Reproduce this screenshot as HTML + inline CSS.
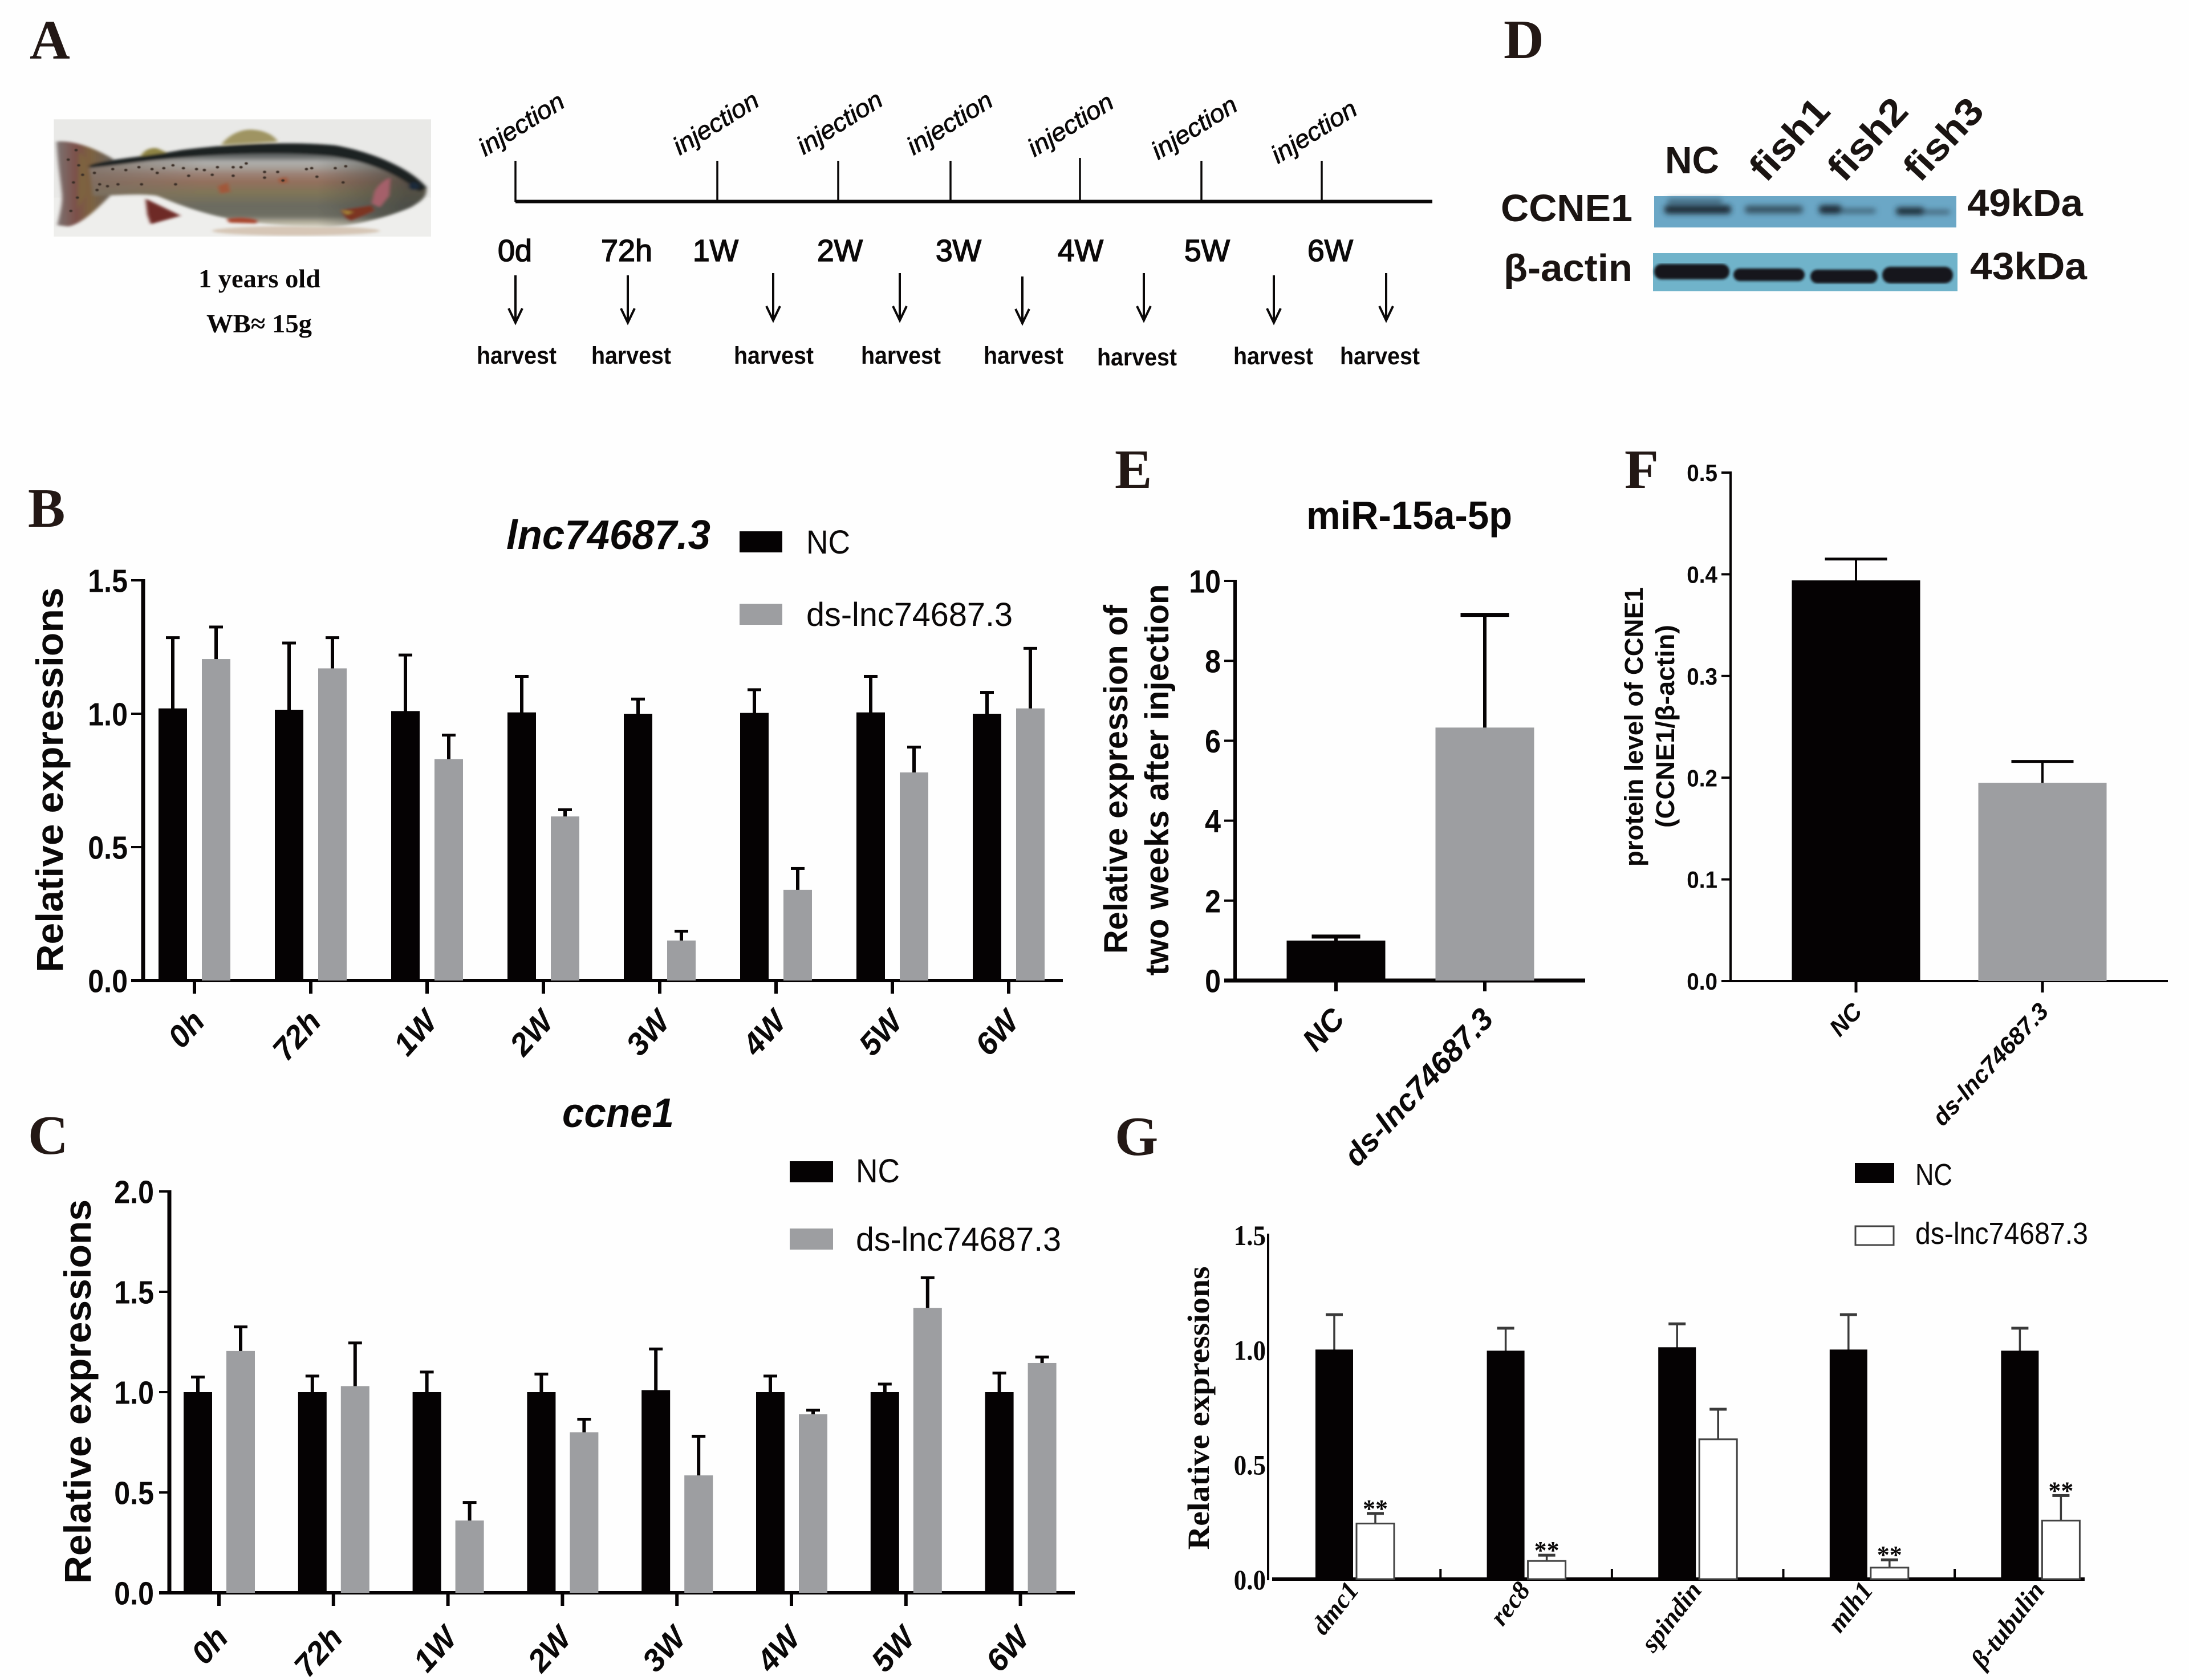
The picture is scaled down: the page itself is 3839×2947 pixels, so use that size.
<!DOCTYPE html>
<html lang="en">
<head>
<meta charset="utf-8">
<title>lnc74687.3 knockdown figure</title>
<style>
html,body{margin:0;padding:0;background:#fefefe;}
svg{display:block;}
text{font-family:"Liberation Sans",sans-serif;fill:#0a0808;}
.serif{font-family:"Liberation Serif",serif;}
.letter{font-family:"Liberation Serif",serif;font-weight:bold;font-size:98px;fill:#231815;}
.inj{font-style:italic;font-size:44px;stroke:#0a0808;stroke-width:.8;}
.day{font-size:54px;stroke:#0a0808;stroke-width:1.6;}
.harv{font-size:43px;font-weight:bold;}
.wb{font-weight:bold;font-size:67px;fill:#1a1412;}
.arrow{stroke:#0a0808;stroke-width:4;fill:none;}
</style>
</head>
<body>
<svg id="fig" xmlns="http://www.w3.org/2000/svg" width="3839" height="2947" viewBox="0 0 3839 2947">
<defs>
<filter id="b2" x="-5%" y="-5%" width="110%" height="110%"><feGaussianBlur stdDeviation="2"/></filter>
<filter id="b5" x="-10%" y="-40%" width="120%" height="180%"><feGaussianBlur stdDeviation="5"/></filter>
<filter id="b9" x="-5%" y="-10%" width="110%" height="120%"><feGaussianBlur stdDeviation="7"/></filter>
<clipPath id="fishClip"><path d="M210 330C260 300 400 290 560 250C720 222 950 200 1150 225C1300 262 1440 350 1498 445C1500 490 1490 510 1440 550C1340 610 1200 655 1100 655C1000 655 870 640 740 610C620 575 540 530 470 490C400 475 300 490 225 490Z"/></clipPath>
<linearGradient id="body" gradientUnits="userSpaceOnUse" x1="0" y1="205" x2="0" y2="655">
<stop offset="0" stop-color="#2b2f30"/><stop offset=".1" stop-color="#3c4142"/><stop offset=".18" stop-color="#6b6e6d"/><stop offset=".24" stop-color="#aeaeac"/><stop offset=".3" stop-color="#a8a29b"/><stop offset=".38" stop-color="#9c8276"/><stop offset=".47" stop-color="#93705d"/><stop offset=".6" stop-color="#7f7558"/><stop offset=".75" stop-color="#6b6b60"/><stop offset=".87" stop-color="#6f6f64"/><stop offset=".94" stop-color="#b0ac9b"/><stop offset="1" stop-color="#dcd7c6"/>
</linearGradient>
<linearGradient id="tail" gradientUnits="userSpaceOnUse" x1="85" y1="0" x2="300" y2="0">
<stop offset="0" stop-color="#7d7472"/><stop offset=".35" stop-color="#7b4f49"/><stop offset=".6" stop-color="#7d6240"/><stop offset="1" stop-color="#66605a"/>
</linearGradient>
<linearGradient id="headShade" gradientUnits="userSpaceOnUse" x1="1080" y1="0" x2="1420" y2="0">
<stop offset="0" stop-color="#3f413c" stop-opacity="0"/><stop offset="1" stop-color="#3f413c" stop-opacity=".7"/>
</linearGradient>
<linearGradient id="rearShade" gradientUnits="userSpaceOnUse" x1="210" y1="0" x2="650" y2="0">
<stop offset="0" stop-color="#7a6c62" stop-opacity=".75"/><stop offset="1" stop-color="#7a6c62" stop-opacity="0"/>
</linearGradient>
</defs>
<rect x="0" y="0" width="3839" height="2947" fill="#fefefe"/>

<g>
<text class="letter" x="52" y="103">A</text>
<g transform="translate(60 180) scale(.4591 .3333)">
<rect x="75" y="88" width="1441" height="617" fill="#e9e9e7"/>
<rect x="75" y="500" width="1441" height="205" fill="#eeeeec"/>
<ellipse cx="1000" cy="675" rx="320" ry="25" fill="#d6c6b6" filter="url(#b9)"/>
<g filter="url(#b9)">
<path d="M715 222C740 170 790 140 830 142C880 145 915 170 930 205Z" fill="#9f9462"/>
<path d="M405 288C415 250 445 235 470 240L505 262Z" fill="#8f8444"/>
<path d="M425 505L560 595L445 640L432 590Z" fill="#6e2a25"/>
<path d="M85 205C130 200 200 215 300 295L290 490C240 560 180 640 130 652L88 645C100 570 110 520 105 470C100 400 90 330 85 205Z" fill="url(#tail)"/>
<path d="M170 260L200 300V480L165 560Z" fill="#7d6240"/>
<g clip-path="url(#fishClip)">
<rect x="200" y="200" width="1310" height="460" fill="url(#body)"/>
<rect x="1080" y="200" width="430" height="460" fill="url(#headShade)"/>
<rect x="200" y="200" width="450" height="460" fill="url(#rearShade)"/>
<path d="M200 345C300 335 420 305 600 285C800 262 1000 262 1140 282C1290 315 1400 385 1470 470L1510 440V200H200Z" fill="#1f2424"/>
</g>
<path d="M1300 470C1320 420 1350 400 1360 395L1355 490L1320 550L1290 530Z" fill="#a5606a"/>
<path d="M1170 565L1290 540L1300 570L1210 625L1190 610Z" fill="#7c3422"/>
<path d="M1170 565L1220 575L1195 590Z" fill="#a8893a"/>
<path d="M735 612C780 600 830 605 855 620L850 636L745 632Z" fill="#a8472d"/>
<path d="M700 440l40 -20l10 50l-40 10ZM930 400l35 -10l5 30l-30 5Z" fill="#a0583a"/>
<circle cx="1450" cy="440" r="20" fill="#1c2a3a"/>
</g>
<path d="M230 370h0M250 430h0M300 350h0M320 430h0M350 355h0M400 340h0M410 430h0M450 350h0M470 370h0M495 345h0M540 430h0M530 330h0M570 345h0M620 350h0M650 355h0M700 340h0M760 340h0M790 340h0M810 320h0M880 365h0M930 365h0M1040 350h0M1060 345h0M1150 345h0M1190 335h0M280 440h0M240 460h0M590 385h0M680 380h0M760 385h0M880 395h0M950 410h0M1080 390h0M1180 420h0M160 250h0M170 330h0M150 420h0M165 500h0M140 570h0M185 380h0M130 300h0" stroke="#3a2f28" stroke-width="13" stroke-linecap="round" fill="none" filter="url(#b2)"/>
</g>
<text class="serif" x="348" y="504" font-size="46" font-weight="bold" textLength="214" lengthAdjust="spacingAndGlyphs">1 years old</text>
<text class="serif" x="362" y="583" font-size="46" font-weight="bold" textLength="185" lengthAdjust="spacingAndGlyphs">WB≈ 15g</text>

<g>
<path d="M904 353.5H2512" stroke="#0a0808" stroke-width="6" fill="none"/>
<g stroke="#0a0808" stroke-width="3.5" fill="none">
<path d="M904 282V354"/>
<path d="M1258 282V354"/>
<path d="M1470 282V354"/>
<path d="M1667 282V354"/>
<path d="M1894 277V354"/>
<path d="M2107 282V354"/>
<path d="M2318 282V354"/>
</g>
<text class="inj" transform="translate(851 275) rotate(-32)" textLength="168" lengthAdjust="spacingAndGlyphs">injection</text>
<text class="inj" transform="translate(1192 273) rotate(-32)" textLength="168" lengthAdjust="spacingAndGlyphs">injection</text>
<text class="inj" transform="translate(1409 272) rotate(-32)" textLength="168" lengthAdjust="spacingAndGlyphs">injection</text>
<text class="inj" transform="translate(1602 273) rotate(-32)" textLength="168" lengthAdjust="spacingAndGlyphs">injection</text>
<text class="inj" transform="translate(1814 276) rotate(-32)" textLength="168" lengthAdjust="spacingAndGlyphs">injection</text>
<text class="inj" transform="translate(2031 281) rotate(-32)" textLength="168" lengthAdjust="spacingAndGlyphs">injection</text>
<text class="inj" transform="translate(2241 288) rotate(-32)" textLength="168" lengthAdjust="spacingAndGlyphs">injection</text>
<g>
<text class="day" x="873" y="458" textLength="60" lengthAdjust="spacingAndGlyphs">0d</text>
<text class="day" x="1054" y="458" textLength="90" lengthAdjust="spacingAndGlyphs">72h</text>
<text class="day" x="1215" y="458" textLength="80" lengthAdjust="spacingAndGlyphs">1W</text>
<text class="day" x="1433" y="458" textLength="80" lengthAdjust="spacingAndGlyphs">2W</text>
<text class="day" x="1641" y="458" textLength="80" lengthAdjust="spacingAndGlyphs">3W</text>
<text class="day" x="1855" y="458" textLength="80" lengthAdjust="spacingAndGlyphs">4W</text>
<text class="day" x="2077" y="458" textLength="80" lengthAdjust="spacingAndGlyphs">5W</text>
<text class="day" x="2293" y="458" textLength="80" lengthAdjust="spacingAndGlyphs">6W</text>
</g>
<path class="arrow" d="M904 483V564M892 541L904 566L916 541"/>
<path class="arrow" d="M1101 483V564M1089 541L1101 566L1113 541"/>
<path class="arrow" d="M1356 479V560M1344 537L1356 562L1368 537"/>
<path class="arrow" d="M1578 479V560M1566 537L1578 562L1590 537"/>
<path class="arrow" d="M1793 485V565M1781 542L1793 567L1805 542"/>
<path class="arrow" d="M2006 479V560M1994 537L2006 562L2018 537"/>
<path class="arrow" d="M2234 483V564M2222 541L2234 566L2246 541"/>
<path class="arrow" d="M2431 479V560M2419 537L2431 562L2443 537"/>
<text class="harv" x="836" y="638" textLength="140" lengthAdjust="spacingAndGlyphs">harvest</text>
<text class="harv" x="1037" y="638" textLength="140" lengthAdjust="spacingAndGlyphs">harvest</text>
<text class="harv" x="1287" y="638" textLength="140" lengthAdjust="spacingAndGlyphs">harvest</text>
<text class="harv" x="1510" y="638" textLength="140" lengthAdjust="spacingAndGlyphs">harvest</text>
<text class="harv" x="1725" y="638" textLength="140" lengthAdjust="spacingAndGlyphs">harvest</text>
<text class="harv" x="1924" y="641" textLength="140" lengthAdjust="spacingAndGlyphs">harvest</text>
<text class="harv" x="2163" y="639" textLength="140" lengthAdjust="spacingAndGlyphs">harvest</text>
<text class="harv" x="2350" y="639" textLength="140" lengthAdjust="spacingAndGlyphs">harvest</text>
</g>
</g>

<g>
<text class="letter" x="2637" y="102">D</text>
<text class="wb" x="2920" y="304" font-size="72" textLength="95" lengthAdjust="spacingAndGlyphs">NC</text>
<text class="wb" transform="translate(3097 322) rotate(-47)" textLength="170" lengthAdjust="spacingAndGlyphs">fish1</text>
<text class="wb" transform="translate(3234 322) rotate(-47)" textLength="170" lengthAdjust="spacingAndGlyphs">fish2</text>
<text class="wb" transform="translate(3367 322) rotate(-47)" textLength="170" lengthAdjust="spacingAndGlyphs">fish3</text>
<text class="wb" x="2632" y="388" font-size="72" textLength="231" lengthAdjust="spacingAndGlyphs">CCNE1</text>
<text class="wb" x="2637" y="493" font-size="72" textLength="226" lengthAdjust="spacingAndGlyphs">β-actin</text>
<text class="wb" x="3450" y="379" font-size="72" textLength="203" lengthAdjust="spacingAndGlyphs">49kDa</text>
<text class="wb" x="3455" y="490" font-size="72" textLength="205" lengthAdjust="spacingAndGlyphs">43kDa</text>
<g>
<rect x="2901" y="344" width="530" height="55" fill="#6ba7c6"/>
<g filter="url(#b5)">
<rect x="2919" y="360" width="117" height="15" rx="6" fill="#1d2c36"/>
<rect x="2925" y="349" width="95" height="8" fill="#3f6478"/>
<rect x="3060" y="361" width="102" height="13" rx="6" fill="#34505f"/>
<rect x="3190" y="360" width="40" height="15" rx="6" fill="#1d2c36"/>
<rect x="3228" y="366" width="62" height="8" rx="4" fill="#3e5f72"/>
<rect x="3325" y="364" width="50" height="13" rx="6" fill="#1d2c36"/>
<rect x="3372" y="369" width="48" height="6" rx="3" fill="#345061"/>
</g>
</g>
<g>
<rect x="2899" y="444" width="534" height="67" fill="#70b3ca"/>
<g filter="url(#b2)">
<rect x="2901" y="463" width="132" height="27" rx="13" fill="#14181a"/>
<rect x="3040" y="471" width="125" height="22" rx="11" fill="#14181a"/>
<rect x="3175" y="473" width="118" height="24" rx="12" fill="#14181a"/>
<rect x="3301" y="468" width="124" height="29" rx="14" fill="#14181a"/>
</g>
</g>
</g>

<g id="charts"></g>

<text class="letter" x="49" y="924">B</text>
<text class="letter" x="49" y="2024">C</text>
<text class="letter" x="1955" y="856">E</text>
<text class="letter" x="2849" y="856">F</text>
<text class="letter" x="1955" y="2026">G</text>

<g>
<text x="888" y="963" font-size="72" font-weight="bold" font-style="italic" textLength="358" lengthAdjust="spacingAndGlyphs">lnc74687.3</text>
<text transform="translate(110 1368) rotate(-90)" text-anchor="middle" font-size="66" font-weight="bold" textLength="675" lengthAdjust="spacingAndGlyphs">Relative expressions</text>
<rect x="1297" y="932" width="75" height="37" fill="#050203"/>
<text x="1414" y="971" font-size="58" textLength="77" lengthAdjust="spacingAndGlyphs">NC</text>
<rect x="1297" y="1059" width="75" height="37" fill="#9d9ea1"/>
<text x="1414" y="1098" font-size="58" textLength="362" lengthAdjust="spacingAndGlyphs">ds-lnc74687.3</text>
</g>
<g>
<text x="986" y="1977" font-size="72" font-weight="bold" font-style="italic" textLength="196" lengthAdjust="spacingAndGlyphs">ccne1</text>
<text transform="translate(159 2441) rotate(-90)" text-anchor="middle" font-size="66" font-weight="bold" textLength="674" lengthAdjust="spacingAndGlyphs">Relative expressions</text>
<rect x="1385" y="2037" width="76" height="37" fill="#050203"/>
<text x="1501" y="2074" font-size="58" textLength="77" lengthAdjust="spacingAndGlyphs">NC</text>
<rect x="1385" y="2155" width="76" height="37" fill="#9d9ea1"/>
<text x="1501" y="2194" font-size="58" textLength="360" lengthAdjust="spacingAndGlyphs">ds-lnc74687.3</text>
</g>
<g>
<text x="2291" y="928" font-size="70" font-weight="bold" textLength="361" lengthAdjust="spacingAndGlyphs">miR-15a-5p</text>
<text transform="translate(1977 1367) rotate(-90)" text-anchor="middle" font-size="58" font-weight="bold" textLength="612" lengthAdjust="spacingAndGlyphs">Relative expression of</text>
<text transform="translate(2049 1368) rotate(-90)" text-anchor="middle" font-size="58" font-weight="bold" textLength="687" lengthAdjust="spacingAndGlyphs">two weeks after injection</text>
</g>
<g>
<text transform="translate(2881 1275) rotate(-90)" text-anchor="middle" font-size="45" font-weight="bold" textLength="490" lengthAdjust="spacingAndGlyphs">protein level of CCNE1</text>
<text transform="translate(2936 1274) rotate(-90)" text-anchor="middle" font-size="45" font-weight="bold" textLength="356" lengthAdjust="spacingAndGlyphs">(CCNE1/β-actin)</text>
</g>
<g>
<text class="serif" transform="translate(2120 2470) rotate(-90)" text-anchor="middle" font-size="54" font-weight="bold" textLength="497" lengthAdjust="spacingAndGlyphs">Relative expressions</text>
<rect x="3253" y="2040" width="69" height="35" fill="#050203"/>
<text x="3359" y="2079" font-size="54" textLength="65" lengthAdjust="spacingAndGlyphs">NC</text>
<rect x="3254" y="2151" width="67" height="33" fill="#ffffff" stroke="#444" stroke-width="3"/>
<text x="3359" y="2182" font-size="54" textLength="303" lengthAdjust="spacingAndGlyphs">ds-lnc74687.3</text>
</g>
</svg>

<script>
const bCategories = ['0h','72h','1W','2W','3W','4W','5W','6W'];
const bNc = [1.02,1.015,1.01,1.005,1.0,1.003,1.005,1.0];
const bNcUpper = [1.285,1.265,1.22,1.14,1.055,1.09,1.14,1.08];
const bDs = [1.205,1.17,0.83,0.615,0.15,0.34,0.78,1.02];
const bDsUpper = [1.325,1.285,0.92,0.64,0.185,0.42,0.875,1.245];
const bTicks = [0,0.5,1,1.5];
const bTickLabels = ['0.0','0.5','1.0','1.5'];

const cCategories = ['0h','72h','1W','2W','3W','4W','5W','6W'];
const cNc = [1,1,1,1,1.01,1,1,1];
const cNcUpper = [1.075,1.08,1.1,1.09,1.215,1.08,1.04,1.095];
const cDs = [1.205,1.03,0.36,0.80,0.585,0.89,1.42,1.145];
const cDsUpper = [1.325,1.245,0.45,0.865,0.78,0.91,1.57,1.175];
const cTicks = [0,0.5,1,1.5,2];
const cTickLabels = ['0.0','0.5','1.0','1.5','2.0'];

const eCategories = ['NC','ds-lnc74687.3'];
const eValues = [1.0,6.33];
const eUpper = [1.1,9.15];
const eTicks = [0,2,4,6,8,10];
const eTickLabels = ['0','2','4','6','8','10'];

const fCategories = ['NC','ds-lnc74687.3'];
const fValues = [0.394,0.195];
const fUpper = [0.415,0.216];
const fTicks = [0,0.1,0.2,0.3,0.4,0.5];
const fTickLabels = ['0.0','0.1','0.2','0.3','0.4','0.5'];

const gCategories = ['dmc1','rec8','spindin','mlh1','β-tubulin'];
const gNc = [1.0,0.995,1.01,1.0,0.995];
const gNcUpper = [1.152,1.093,1.112,1.152,1.093];
const gDs = [0.242,0.079,0.609,0.05,0.255];
const gDsUpper = [0.286,0.104,0.74,0.084,0.364];
const gStars = ['**','**','','**','**'];
const gTicks = [0,0.5,1,1.5];
const gTickLabels = ['0.0','0.5','1.0','1.5'];

const NS = 'http://www.w3.org/2000/svg';
const root = document.getElementById('charts');

function mk(tag, attrs, parent) {
  const el = document.createElementNS(NS, tag);
  for (const k in attrs) el.setAttribute(k, attrs[k]);
  parent.appendChild(el);
  return el;
}

function axes(g, s, tickVals, tickLabs, cats) {
  const yOf = v => s.y0 + (s.yTop - s.y0) * v / s.vMax;
  const xOf = i => s.tick0 + i * s.step;

  const yAxis = mk('rect', {x: s.axisX - s.yw / 2, y: s.yTop - s.th / 2, width: s.yw, height: s.y0 - s.yTop + s.th, fill: s.axisColor || '#050203'}, g);
  
  

  const xAxis = mk('rect', {x: s.xStart, y: s.y0 - s.xw / 2, width: s.xEnd - s.xStart, height: s.xw, fill: s.axisColor || '#050203'}, g);
  
  

  tickVals.forEach((v, i) => {
    if (s.yTickLen) {
      const t = mk('rect', {x: s.axisX - s.yTickLen, y: yOf(v) - s.th / 2, width: s.yTickLen, height: s.th, fill: s.axisColor || '#050203'}, g);
      
      
    }
    const l = mk('text', {x: s.yLabelX, y: yOf(v) + s.yFont * 0.36, 'text-anchor': 'end', 'font-size': s.yFont, 'font-weight': 'bold'}, g);
    if (s.serif) l.setAttribute('class', 'serif');
    l.textContent = tickLabs[i];
    
    
    if (s.ySquash) {
      l.setAttribute('textLength', l.getComputedTextLength() * s.ySquash);
      l.setAttribute('lengthAdjust', 'spacingAndGlyphs');
    }
  });

  cats.forEach((c, i) => {
    if (s.xTickLen) {
      const t = mk('rect', {x: xOf(i) - s.xTickW / 2, y: s.y0, width: s.xTickW, height: s.xTickLen, fill: s.axisColor || '#050203'}, g);
      
      
    }
    const l = mk('text', {'text-anchor': 'end', 'font-size': s.xFont, 'font-weight': 'bold', 'font-style': 'italic',
      transform: 'translate(' + (xOf(i) + s.xLabDx) + ' ' + s.xLabY + ') rotate(' + s.xAngle + ')'}, g);
    if (s.serif) l.setAttribute('class', 'serif');
    l.textContent = c;
    
    
  });
  return {yOf, xOf};
}

function bar(g, s, sc, cx, v, up, fill, stroke, w) {
  const top = sc.yOf(v), hi = sc.yOf(up), base = s.y0;
  const stem = mk('rect', {x: cx - s.stemW / 2, y: hi, width: s.stemW, height: top - hi + 1, fill: s.errColor || '#050203'}, g);
  
  
  const cap = mk('rect', {x: cx - s.capW / 2, y: hi - s.capH / 2, width: s.capW, height: s.capH, fill: s.errColor || '#050203'}, g);
  
  
  const attrs = {x: cx - w / 2, y: top, width: w, height: base - top, fill: fill};
  if (stroke) { attrs.stroke = stroke; attrs['stroke-width'] = 3; }
  const r = mk('rect', attrs, g);
  
  
}

function groupedChart(name, s, cats, nc, ncUp, ds, dsUp, tickVals, tickLabs, ncFill, dsFill, dsStroke) {
  const g = mk('g', {}, root);
  
  
  const sc = axes(g, s, tickVals, tickLabs, cats);
  cats.forEach((c, i) => {
    bar(g, s, sc, sc.xOf(i) + s.off1, nc[i], ncUp[i], ncFill, null, s.barW);
    bar(g, s, sc, sc.xOf(i) + s.off2, ds[i], dsUp[i], dsFill, dsStroke, s.barW);
  });
  return {g, sc};
}

function simpleChart(name, s, cats, vals, ups, tickVals, tickLabs, fills) {
  const g = mk('g', {}, root);
  
  
  const sc = axes(g, s, tickVals, tickLabs, cats);
  cats.forEach((c, i) => bar(g, s, sc, sc.xOf(i), vals[i], ups[i], fills[i], null, s.barW));
}

groupedChart('chart-b-lnc74687', {
  axisX: 251, y0: 1720, yTop: 1018, vMax: 1.5, yw: 7, xw: 6, th: 4, xStart: 230, xEnd: 1864,
  tick0: 341, step: 204, yTickLen: 21, xTickLen: 23, xTickW: 6, yLabelX: 224, yFont: 57, ySquash: 0.88,
  xFont: 55, xLabDx: 21, xLabY: 1794, xAngle: -48, stemW: 6, capW: 24, capH: 5, off1: -38, off2: 38, barW: 50
}, bCategories, bNc, bNcUpper, bDs, bDsUpper, bTicks, bTickLabels, '#050203', '#9d9ea1', null);

groupedChart('chart-c-ccne1', {
  axisX: 297, y0: 2794, yTop: 2090, vMax: 2, yw: 7, xw: 6, th: 4, xStart: 279, xEnd: 1885,
  tick0: 384, step: 200.8, yTickLen: 18, xTickLen: 23, xTickW: 6, yLabelX: 270, yFont: 57, ySquash: 0.88,
  xFont: 55, xLabDx: 19, xLabY: 2875, xAngle: -48, stemW: 6, capW: 24, capH: 5, off1: -37, off2: 38, barW: 50
}, cCategories, cNc, cNcUpper, cDs, cDsUpper, cTicks, cTickLabels, '#050203', '#9d9ea1', null);

simpleChart('chart-e-mir15a', {
  axisX: 2166, y0: 1720, yTop: 1019, vMax: 10, yw: 6, xw: 7, th: 4, xStart: 2147, xEnd: 2780,
  tick0: 2343, step: 261, yTickLen: 19, xTickLen: 19, xTickW: 6, yLabelX: 2141, yFont: 57, ySquash: 0.88,
  xFont: 54, xLabDx: 18, xLabY: 1790, xAngle: -47, stemW: 6, capW: 85, capH: 7, barW: 173
}, eCategories, eValues, eUpper, eTicks, eTickLabels, ['#050203', '#9d9ea1']);

simpleChart('chart-f-protein', {
  axisX: 3035, y0: 1721, yTop: 829, vMax: 0.5, yw: 4, xw: 4, th: 4, xStart: 3019, xEnd: 3802,
  tick0: 3255, step: 327, yTickLen: 16, xTickLen: 20, xTickW: 5, yLabelX: 3012, yFont: 42, ySquash: 0.92,
  xFont: 42, xLabDx: 13, xLabY: 1776, xAngle: -47, stemW: 4, capW: 109, capH: 5, barW: 225
}, fCategories, fValues, fUpper, fTicks, fTickLabels, ['#050203', '#9d9ea1']);

const gSpec = {
  axisX: 2224, y0: 2770, yTop: 2166, vMax: 1.5, yw: 4, xw: 6, th: 4, xStart: 2231, xEnd: 3656,
  tick0: 2376, step: 300.6, yTickLen: 0, xTickLen: 0, xTickW: 0, yLabelX: 2220, yFont: 50, ySquash: 0.9, serif: true,
  xFont: 46, xLabDx: 9, xLabY: 2790, xAngle: -52, stemW: 3.5, capW: 30, capH: 5, off1: -36, off2: 36, barW: 66, errColor: '#3a3a3a'
};
const gChart = groupedChart('chart-g-meiosis-genes', gSpec, gCategories, gNc, gNcUpper, gDs, gDsUpper, gTicks, gTickLabels, '#050203', '#ffffff', '#444444');

gCategories.forEach((c, i) => {
  if (i < gCategories.length - 1) {
    const boundary = mk('rect', {x: gChart.sc.xOf(i) + gSpec.step / 2 - 2, y: gSpec.y0 - 18, width: 4, height: 18, fill: '#050203'}, gChart.g);
    
    
  }
  if (gStars[i]) {
    const st = mk('text', {x: gChart.sc.xOf(i) + gSpec.off2, y: gChart.sc.yOf(gDsUpper[i]) + 6, 'text-anchor': 'middle', 'font-size': 44, 'font-weight': 'bold', 'class': 'serif'}, gChart.g);
    st.textContent = gStars[i];
    
    
  }
});
</script>
</body>
</html>
